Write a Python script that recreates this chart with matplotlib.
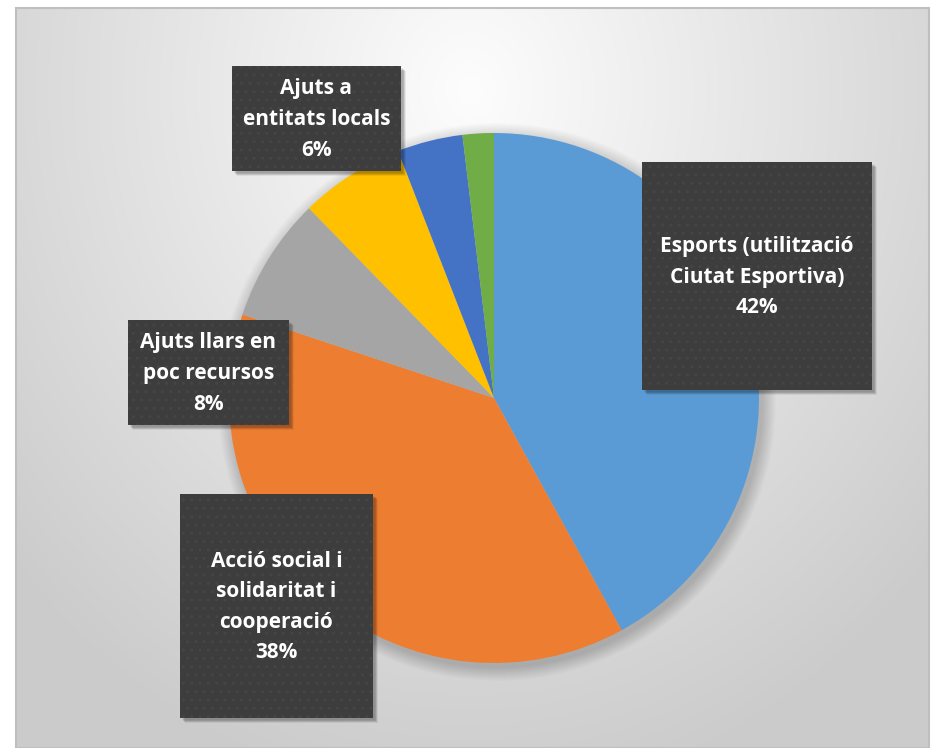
"""
Distribució per àmbits - pastís amb etiquetes en caixa
"""
import matplotlib
matplotlib.use('Agg')
import matplotlib.pyplot as plt
import numpy as np
from matplotlib.patches import Rectangle, Circle

plt.rcParams['font.family'] = ['Open Sans', 'DejaVu Sans']
plt.rcParams['hatch.linewidth'] = 1.0

# dades
categories = ['Esports (utilització\nCiutat Esportiva)',
              'Acció social i\nsolidaritat i\ncooperació',
              'Ajuts llars en\npoc recursos',
              'Ajuts a\nentitats locals',
              'Altres 1',
              'Altres 2']
valors = [42.0, 38.1, 7.6, 6.4, 4.0, 1.9]
colors = ['#5b9bd5', '#ed7d31', '#a5a5a5', '#ffc000', '#4472c4', '#70ad47']

# caixes d'etiquetes (x0, y0 superior, ample, alt) en píxels
caixes = {
    0: (642, 162, 230, 228),
    1: (180, 494, 193, 224),
    2: (128, 320, 161, 105),
    3: (232, 66, 169, 105),
}

W, H = 940, 748
fig = plt.figure(figsize=(9.4, 7.48), dpi=100)
ax = fig.add_axes([0, 0, 1, 1])

# fons amb degradat radial
fx0, fx1, fy0, fy1 = 16, 929, 8, 748
xx, yy = np.meshgrid(np.arange(fx0, fx1), np.arange(fy0, fy1))
d = np.sqrt(((xx - 470) / 620) ** 2 + ((yy - 90) / 720) ** 2)
g = (253 - 50 * np.clip(d, 0, 1)) / 255
img = np.dstack([g, g, g])
ax.imshow(img, extent=(fx0, fx1, fy1, fy0), zorder=0, interpolation='bilinear')
ax.add_patch(Rectangle((fx0, fy0), fx1 - fx0, fy1 - fy0, fill=False,
                       edgecolor='#bfbfbf', lw=1.5, zorder=1))

# ombra del pastís
cx, cy, r = 494, 398, 265
for i in range(14):
    ax.add_patch(Circle((cx + 3, cy + 4), r + 14 - i, color='black',
                        alpha=0.012, lw=0, zorder=2))

# l'eix y va cap avall: startangle=-90 i counterclock=True donen sentit horari des de dalt
ax.pie(valors, colors=colors, startangle=-90, counterclock=True,
       center=(cx, cy), radius=r, frame=True,
       wedgeprops=dict(linewidth=0, zorder=3))
ax.set_xlim(0, W)
ax.set_ylim(H, 0)
ax.set_aspect('equal')
ax.axis('off')

for i, (x0, y0, w, h) in caixes.items():
    for k in range(6):
        ax.add_patch(Rectangle((x0 + 2 + k * 0.6, y0 + 2 + k * 0.6), w, h,
                               color='black', alpha=0.06, lw=0, zorder=5))
    ax.add_patch(Rectangle((x0, y0), w, h, facecolor='#3d3d3d',
                           edgecolor='#454545', hatch='..', lw=0, zorder=6))
    txt = f"{categories[i]}\n{valors[i]:.0f}%"
    ax.text(x0 + w / 2, y0 + h / 2 + 1, txt, ha='center', va='center',
            color='white', fontsize=15, fontweight='bold', linespacing=1.6,
            zorder=7)

fig.savefig('out.png', dpi=100)
